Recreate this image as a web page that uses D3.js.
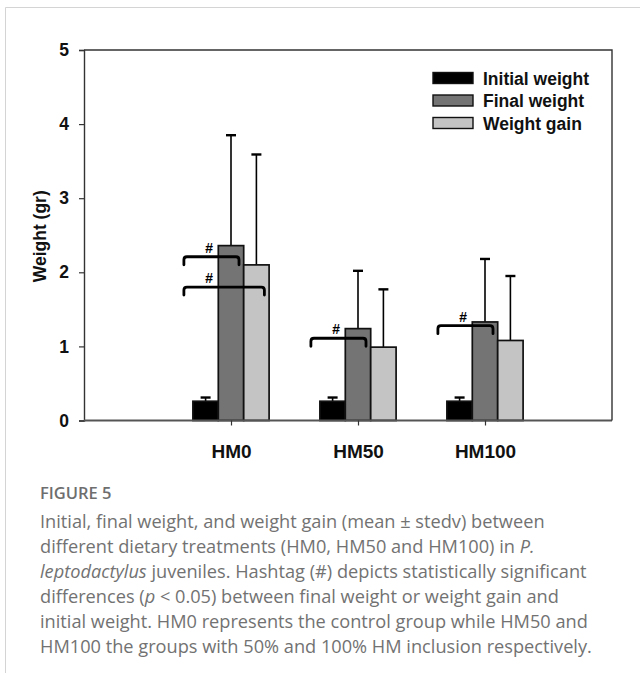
<!DOCTYPE html>
<html>
<head>
<meta charset="utf-8">
<script src="https://cdn.jsdelivr.net/npm/d3@7"></script>
<style>
  html, body { margin: 0; padding: 0; background: #fff; }
  svg { display: block; }
</style>
</head>
<body>
<script>
// Weight data per dietary treatment (mean and standard deviation, grams)
const categories = ["HM0", "HM50", "HM100"];
const seriesNames = ["Initial weight", "Final weight", "Weight gain"];
const initialMean = [0.26, 0.26, 0.26];
const initialSd = [0.05, 0.05, 0.05];
const finalMean = [2.36, 1.24, 1.33];
const finalSd = [1.49, 0.78, 0.85];
const gainMean = [2.10, 0.99, 1.08];
const gainSd = [1.49, 0.78, 0.87];
const yTicks = [0, 1, 2, 3, 4, 5];

// Significance brackets: initial weight vs. the given series, drawn at "level"
const bracketGroups = ["HM0", "HM0", "HM50", "HM100"];
const bracketTargets = ["Final weight", "Weight gain", "Final weight", "Final weight"];
const bracketLevels = [2.21, 1.80, 1.11, 1.28];

const captionTitle = "FIGURE 5";

const W = 640, H = 673;
const svg = d3.select("body").append("svg").attr("width", W).attr("height", H);

// card border
svg.append("path")
  .attr("d", `M5.5,${H} V7.5 H${W}`)
  .attr("fill", "none").attr("stroke", "#d4d4d4").attr("stroke-width", 1);

const plot = { left: 84, right: 612, top: 50, bottom: 420.5 };
const chartFont = "'Liberation Sans', Arial, sans-serif";

const x = d3.scalePoint().domain(categories).range([plot.left + 20, plot.right]).padding(1);
const step = x.step();
const groupWidth = step * 0.6;
const xs = d3.scaleBand().domain(seriesNames).range([-groupWidth / 2, groupWidth / 2]).padding(0);
const y = d3.scaleLinear().domain([0, 5]).range([plot.bottom, plot.top]);

const fills = d3.scaleOrdinal().domain(seriesNames).range(["#000000", "#747474", "#c4c4c4"]);
const means = [initialMean, finalMean, gainMean];
const sds = [initialSd, finalSd, gainSd];

const bars = [];
categories.forEach((c, i) => {
  seriesNames.forEach((s, j) => {
    bars.push({ cat: c, series: s, mean: means[j][i], sd: sds[j][i] });
  });
});

// error bars (upper half only)
const eb = svg.append("g").attr("stroke", "#000").attr("stroke-width", 1.6).attr("fill", "none");
bars.forEach(d => {
  const cx = x(d.cat) + xs(d.series) + xs.bandwidth() / 2;
  eb.append("line").attr("x1", cx).attr("x2", cx).attr("y1", y(d.mean)).attr("y2", y(d.mean + d.sd));
  eb.append("line").attr("x1", cx - 5).attr("x2", cx + 5).attr("y1", y(d.mean + d.sd)).attr("y2", y(d.mean + d.sd))
    .attr("stroke-width", 2.4);
});

// bars
svg.append("g").selectAll("rect").data(bars).join("rect")
  .attr("x", d => x(d.cat) + xs(d.series))
  .attr("width", xs.bandwidth())
  .attr("y", d => y(d.mean))
  .attr("height", d => y(0) - y(d.mean))
  .attr("fill", d => fills(d.series))
  .attr("stroke", "#111").attr("stroke-width", 1.7);

// axes frame
const yAxis = d3.axisLeft(y).tickValues(yTicks).tickSize(5).tickPadding(10).tickFormat(d3.format("d"));
const gy = svg.append("g").attr("transform", `translate(${plot.left},0)`).call(yAxis);
gy.select(".domain").attr("stroke", "#333").attr("stroke-width", 1.4);
gy.selectAll(".tick line").attr("stroke", "#333").attr("stroke-width", 1.2);
gy.selectAll(".tick text").attr("font-family", chartFont).attr("font-weight", "bold")
  .attr("font-size", 17.5).attr("fill", "#111");

const xAxis = d3.axisBottom(x).tickSize(5).tickPadding(19);
const gx = svg.append("g").attr("transform", `translate(0,${plot.bottom})`).call(xAxis);
gx.select(".domain").attr("stroke", "#555").attr("stroke-width", 2)
  .attr("d", `M${plot.left},0H${plot.right}`);
gx.selectAll(".tick line").attr("stroke", "#333").attr("stroke-width", 1.2);
gx.selectAll(".tick text").attr("font-family", chartFont).attr("font-weight", "bold")
  .attr("font-size", 19).attr("fill", "#111");

svg.append("path")
  .attr("d", `M${plot.left},${plot.top}H${plot.right}V${plot.bottom}`)
  .attr("fill", "none").attr("stroke", "#333").attr("stroke-width", 1.4);

// y-axis title
svg.append("text")
  .attr("transform", `translate(46,${(plot.top + plot.bottom) / 2 + 1}) rotate(-90)`)
  .attr("text-anchor", "middle")
  .attr("font-family", chartFont).attr("font-weight", "bold").attr("font-size", 17.5)
  .attr("fill", "#111")
  .text("Weight (gr)");

// significance brackets
const br = svg.append("g");
bracketGroups.forEach((g, k) => {
  const x1 = x(g) + xs(seriesNames[0]) - 9;
  const x2 = x(g) + xs(bracketTargets[k]) + xs.bandwidth() / 2 + 8;
  const yy = y(bracketLevels[k]);
  const hook = 8, r = 3;
  br.append("path")
    .attr("d", `M${x1},${yy + hook} V${yy + r} Q${x1},${yy} ${x1 + r},${yy} H${x2 - r} Q${x2},${yy} ${x2},${yy + r} V${yy + hook}`)
    .attr("fill", "none").attr("stroke", "#000").attr("stroke-width", 2.8)
    .attr("stroke-linecap", "round");
  br.append("text")
    .attr("x", x1 + 25).attr("y", yy - 4)
    .attr("text-anchor", "middle")
    .attr("font-family", chartFont).attr("font-weight", "bold").attr("font-style", "italic")
    .attr("font-size", 14).attr("fill", "#000")
    .text("#");
});

// legend
const lg = svg.append("g");
seriesNames.forEach((s, i) => {
  const ly = 78 + i * 22.5;
  lg.append("rect").attr("x", 433).attr("y", ly - 5.5).attr("width", 40).attr("height", 11)
    .attr("fill", fills(s)).attr("stroke", "#111").attr("stroke-width", 1.4);
  lg.append("text").attr("x", 483).attr("y", ly + 6.5)
    .attr("font-family", chartFont).attr("font-weight", "bold").attr("font-size", 17.5)
    .attr("fill", "#111").text(s);
});

// caption
const capFont = "'Open Sans', 'Noto Sans', sans-serif";
svg.append("text").attr("x", 40).attr("y", 499)
  .attr("font-family", capFont).attr("font-weight", 600).attr("font-size", 16.5)
  .attr("fill", "#6e6e6e").text(captionTitle);

const captionLines = [
  [{ t: "Initial, final weight, and weight gain (mean ± stedv) between" }],
  [{ t: "different dietary treatments (HM0, HM50 and HM100) in " }, { t: "P.", i: true }],
  [{ t: "leptodactylus", i: true }, { t: " juveniles. Hashtag (#) depicts statistically significant" }],
  [{ t: "differences (" }, { t: "p", i: true }, { t: " < 0.05) between final weight or weight gain and" }],
  [{ t: "initial weight. HM0 represents the control group while HM50 and" }],
  [{ t: "HM100 the groups with 50% and 100% HM inclusion respectively." }]
];
captionLines.forEach((parts, li) => {
  const t = svg.append("text").attr("x", 40).attr("y", 528 + li * 25)
    .attr("font-family", capFont).attr("font-size", 18.2).attr("fill", "#727272")
    .attr("xml:space", "preserve");
  parts.forEach(p => {
    t.append("tspan").attr("font-style", p.i ? "italic" : null).text(p.t);
  });
});
</script>
</body>
</html>
